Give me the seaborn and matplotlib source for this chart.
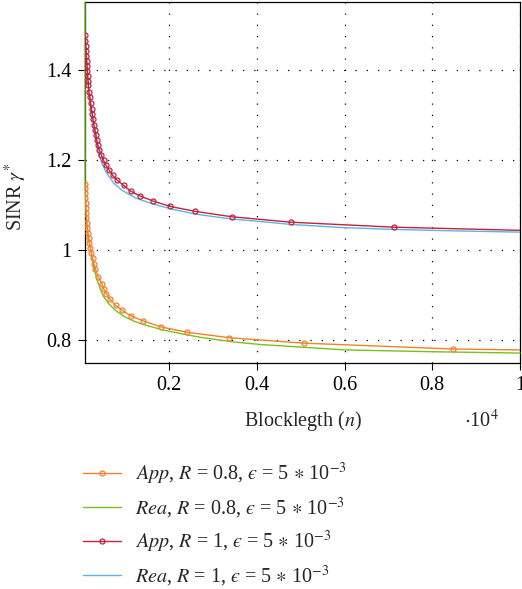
import matplotlib
matplotlib.use("Agg")
import matplotlib.pyplot as plt
import seaborn as sns

# ---------------- data ----------------
app08_n = [80, 82, 85, 90, 95, 99, 106, 113, 120, 131, 145, 161, 181, 204, 227, 252, 281, 318, 386, 466,
           503, 564, 655, 776, 922, 1134, 1414, 1811, 2417, 3374, 5070, 8465, 10000]
app08_g = [1.147, 1.137, 1.126, 1.115, 1.104, 1.093, 1.082, 1.071, 1.060, 1.049, 1.038, 1.027, 1.015, 1.004,
           0.993, 0.982, 0.970, 0.958, 0.940, 0.926, 0.915, 0.904, 0.891, 0.878, 0.867, 0.854, 0.843, 0.830,
           0.818, 0.806, 0.794, 0.781, 0.779]

rea08_n = [79, 81, 90, 99, 113, 131, 161, 181, 204, 227, 252, 277, 313, 359, 427, 503, 616, 769, 958, 1186,
           1492, 1870, 2326, 2706, 3436, 4074, 6011, 8010, 10000]
rea08_g = [1.55, 1.137, 1.115, 1.093, 1.071, 1.049, 1.027, 1.015, 1.004, 0.993, 0.982, 0.967, 0.950, 0.933,
           0.914, 0.897, 0.882, 0.867, 0.854, 0.843, 0.833, 0.823, 0.814, 0.807, 0.797, 0.791, 0.779, 0.775, 0.772]

app1_n = [85, 90, 97, 104, 111, 117, 126, 133, 142, 149, 158, 170, 193, 206, 229, 245, 261, 284, 307, 329,
          348, 370, 405, 450, 503, 557, 632, 708, 815, 958, 1118, 1339, 1628, 2023, 2592, 3436, 4780, 7121, 10000]
app1_g = [1.477, 1.464, 1.453, 1.442, 1.431, 1.420, 1.409, 1.398, 1.387, 1.376, 1.365, 1.350, 1.339, 1.326,
          1.313, 1.301, 1.290, 1.278, 1.267, 1.256, 1.245, 1.234, 1.223, 1.211, 1.199, 1.188, 1.177, 1.166,
          1.155, 1.144, 1.131, 1.120, 1.109, 1.097, 1.086, 1.074, 1.062, 1.051, 1.044]

rea1_n = [85, 111, 142, 170, 206, 245, 284, 325, 389, 466, 580, 730, 922, 1225, 1606, 2023, 2592, 3429, 4035,
          4780, 5965, 7121, 8420, 10000]
rea1_g = [1.477, 1.431, 1.387, 1.350, 1.326, 1.301, 1.276, 1.250, 1.214, 1.192, 1.170, 1.149, 1.133, 1.116,
          1.103, 1.092, 1.080, 1.069, 1.064, 1.057, 1.050, 1.046, 1.043, 1.040]

EPS = "$\u03f5$"
labels = ["$App$, $R$ = 0.8, " + EPS + " = 5 $\\ast$ 10$^{-3}$",
          "$Rea$, $R$ = 0.8, " + EPS + " = 5 $\\ast$ 10$^{-3}$",
          "$App$, $R$ = 1, " + EPS + " = 5 $\\ast$ 10$^{-3}$",
          "$Rea$, $R$ = 1, " + EPS + " = 5 $\\ast$ 10$^{-3}$"]

xtick_vals = [2000, 4000, 6000, 8000, 10000]
xtick_labels = ["0.2", "0.4", "0.6", "0.8", "1"]
ytick_vals = [0.8, 1.0, 1.2, 1.4]
ytick_labels = ["0.8", "1", "1.2", "1.4"]

x_label = "Blocklegth ($n$)"
y_label = r"SINR $\gamma^{*}$"
x_offset = r"$\cdot$10$^{4}$"

# ---------------- style ----------------
sns.set_style("ticks")
plt.rcParams["font.family"] = ["Liberation Serif", "DejaVu Serif"]
plt.rcParams["mathtext.fontset"] = "stix"

c_orange = "#F3802B"
c_green = "#7BBF1E"
c_red = "#C4213F"
c_blue = "#5DB4E4"

fig = plt.figure(figsize=(5.22, 5.89), dpi=100)
ax = fig.add_axes([85 / 522, 1 - 363 / 589, 435 / 522, 361 / 589])

FS = 14.5
common = dict(ax=ax, estimator=None, sort=False, linewidth=1.0)

sns.lineplot(x=app08_n, y=app08_g, color=c_orange, marker="o", markersize=3.6, markerfacecolor="none",
             markeredgecolor=c_orange, markeredgewidth=0.9, markevery=list(range(len(app08_n) - 1)),
             label=labels[0], zorder=4, **common)
sns.lineplot(x=rea08_n, y=rea08_g, color=c_green, label=labels[1], zorder=3, clip_on=False, **common)
sns.lineplot(x=app1_n, y=app1_g, color=c_red, marker="o", markersize=3.6, markerfacecolor="none",
             markeredgecolor=c_red, markeredgewidth=0.9, markevery=list(range(len(app1_n) - 1)),
             label=labels[2], zorder=4, **common)
sns.lineplot(x=rea1_n, y=rea1_g, color=c_blue, label=labels[3], zorder=3, **common)

handles, labs = ax.get_legend_handles_labels()
if ax.get_legend() is not None:
    ax.get_legend().remove()

ax.set_xlim(80, 10000)
ax.set_ylim(0.75, 1.55)
ax.set_xticks(xtick_vals)
ax.set_xticklabels(xtick_labels)
ax.set_yticks(ytick_vals)
ax.set_yticklabels(ytick_labels)
ax.tick_params(axis="both", direction="out", length=5, width=0.8, colors="black", labelsize=FS)
ax.tick_params(axis="x", pad=4)
ax.tick_params(axis="y", pad=4.5)

for s in ax.spines.values():
    s.set_visible(True)
    s.set_linewidth(0.9)
    s.set_color("black")

ax.grid(True, color="black", linestyle=(0, (1, 8)), linewidth=0.9)
ax.set_axisbelow(True)

ax.set_xlabel(x_label, fontsize=FS)
ax.xaxis.set_label_coords(0.5, -0.128)
ax.set_ylabel(y_label, fontsize=FS)
ax.yaxis.set_label_coords(-0.128, 0.46)

fig.text(481 / 522, 1 - 421 / 589, x_offset, fontsize=FS, ha="center", va="center")

fig.legend(handles, labs, loc="upper left", bbox_to_anchor=(83 / 522, 1 - 461 / 589), frameon=False,
           fontsize=FS, handlelength=1.9, handletextpad=0.7, labelspacing=0.42, borderpad=0,
           borderaxespad=0, numpoints=1)

fig.savefig("out.png", dpi=100)
